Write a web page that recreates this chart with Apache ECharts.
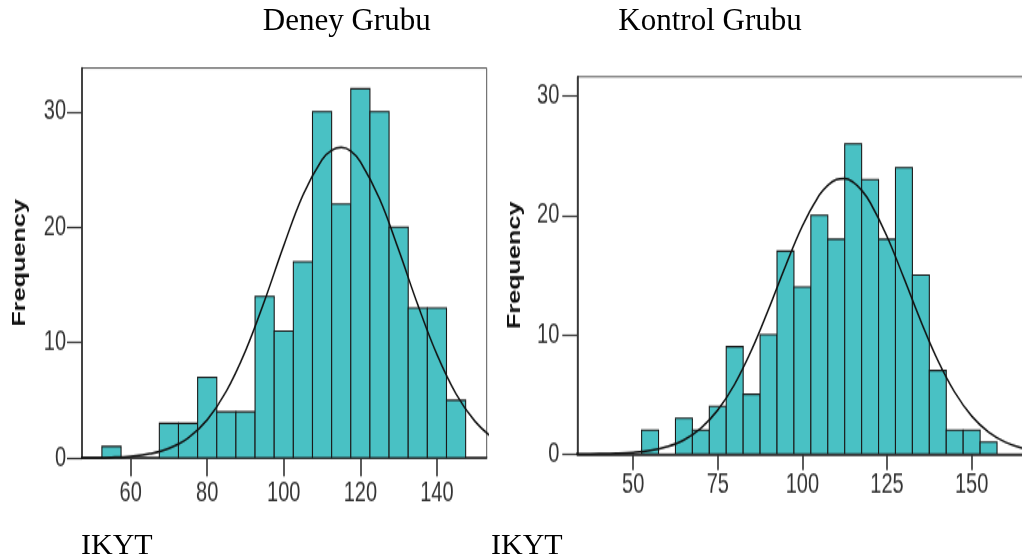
<!DOCTYPE html>
<html>
<head>
<meta charset="utf-8">
<script src="https://cdn.jsdelivr.net/npm/echarts@6/dist/echarts.min.js"></script>
<style>
  html, body { margin: 0; padding: 0; background: #fff; }
  #stage { position: relative; width: 1022px; height: 560px; overflow: hidden; background: #fff; }
  /* the two SPSS panels are drawn on a squat canvas and stretched vertically */
  #plots { position: absolute; left: 0; top: 0; width: 1022px; height: 400px; transform: scaleY(1.4); transform-origin: 0 0; }
  #captions { position: absolute; left: 0; top: 0; width: 1022px; height: 560px; }
</style>
</head>
<body>
<div id="stage">
  <div id="plots"></div>
  <div id="captions"></div>
</div>
<script>
// IKYT score histograms, bins of width 5 centred on multiples of 5
const binWidth = 5;
const deneyBins    = [55, 60, 65, 70, 75, 80, 85, 90, 95, 100, 105, 110, 115, 120, 125, 130, 135, 140, 145];
const deneyCounts  = [ 1,  0,  0,  3,  3,  7,  4,  4, 14,  11,  17,  30,  22,  32,  30,  20,  13,  13,   5];
const kontrolBins   = [55, 60, 65, 70, 75, 80, 85, 90, 95, 100, 105, 110, 115, 120, 125, 130, 135, 140, 145, 150, 155];
const kontrolCounts = [ 2,  0,  3,  2,  4,  9,  5, 10, 17,  14,  20,  18,  26,  23,  18,  24,  15,   7,   2,   2,   1];

// Normal curves laid over each histogram, sampled every 5 points (finer near the peak)
const deneyCurveX = [45, 50, 55, 60, 65, 70, 75, 80, 85, 90, 95, 100, 105, 110, 112.5, 115, 117.5, 120, 125, 130, 135, 140, 145, 150, 155];
const deneyCurveY = [0.006, 0.019, 0.055, 0.149, 0.37, 0.84, 1.74, 3.31, 5.79, 9.28, 13.65, 18.41, 22.78, 25.85, 26.65, 26.9, 26.6, 25.67, 22.47, 18.04, 13.28, 8.97, 5.55, 3.15, 1.64];
const kontrolCurveX = [30, 35, 40, 45, 50, 55, 60, 65, 70, 75, 80, 85, 90, 95, 100, 105, 107.5, 110, 112.5, 115, 117.5, 120, 125, 130, 135, 140, 145, 150, 155, 160, 165, 170];
const kontrolCurveY = [0.003, 0.008, 0.021, 0.054, 0.13, 0.29, 0.61, 1.18, 2.16, 3.68, 5.86, 8.72, 12.13, 15.75, 19.12, 21.7, 22.53, 23.0, 23.09, 22.78, 22.1, 21.09, 18.24, 14.74, 11.13, 7.85, 5.18, 3.19, 1.84, 0.99, 0.5, 0.23];

// Axis tick labels
const deneyXTicks   = [60, 80, 100, 120, 140];
const kontrolXTicks = [50, 75, 100, 125, 150];
const freqTicks     = [0, 10, 20, 30];

// Texts
const groupTitles = ['Deney Grubu', 'Kontrol Grubu'];
const xTitle = 'IKYT';
const yTitle = 'Frequency';

// vertical stretch applied to the panel canvas through CSS
const SY = 1.4;

const BAR_FILL = '#49C1C4';
const INK = '#222';

function pairs(xs, ys) { return xs.map((x, i) => [x, ys[i]]); }

function histItem(params, api) {
  const c = api.value(0), n = api.value(1);
  if (!n) return null;
  const p0 = api.coord([c - binWidth / 2, 0]);
  const p1 = api.coord([c + binWidth / 2, n]);
  return {
    type: 'rect',
    shape: { x: p0[0], y: p1[1], width: p1[0] - p0[0], height: p0[1] - p1[1] },
    style: { fill: BAR_FILL, stroke: '#1a1a1a', lineWidth: 1.1 }
  };
}

function xAxisFor(grid, min, max, ticks, tickLen, margin) {
  return {
    gridIndex: grid, type: 'value', min: min, max: max,
    axisLine: { show: true, onZero: false, lineStyle: { color: INK, width: 1.5 } },
    axisTick: { show: true, length: tickLen, customValues: ticks, lineStyle: { color: '#333', width: 1.6 } },
    axisLabel: { customValues: ticks, margin: margin, fontSize: 20, fontFamily: 'Liberation Sans', color: '#333' },
    splitLine: { show: false }
  };
}

function yAxisFor(grid, max, margin, nameGap) {
  return {
    gridIndex: grid, type: 'value', min: 0, max: max,
    name: yTitle, nameLocation: 'middle', nameRotate: 90, nameGap: nameGap,
    nameTextStyle: { fontSize: 18, fontWeight: 'bold', fontFamily: 'Liberation Sans', color: '#111' },
    axisLine: { show: true, onZero: false, lineStyle: { color: INK, width: 1.5 } },
    axisTick: { show: true, length: 15, customValues: freqTicks, lineStyle: { color: '#333', width: 1.2 } },
    axisLabel: { customValues: freqTicks, margin: margin, fontSize: 20, fontFamily: 'Liberation Sans', color: '#333' },
    splitLine: { show: false }
  };
}

const plots = echarts.init(document.getElementById('plots'), null, { renderer: 'canvas' });
plots.setOption({
  animation: false,
  backgroundColor: '#fff',
  grid: [
    { left: 82, top: 68 / SY, width: 404.7, height: 390 / SY, show: true, borderColor: '#555', borderWidth: 1, outerBoundsMode: 'none' },
    { left: 577.3, top: 76.7 / SY, width: 448.5, height: 377.3 / SY, show: true, borderColor: '#555', borderWidth: 1, outerBoundsMode: 'none' }
  ],
  xAxis: [
    xAxisFor(0, 47.3, 153, deneyXTicks, 13, 15),
    xAxisFor(1, 33.5, 166, kontrolXTicks, 11.5, 12)
  ],
  yAxis: [
    yAxisFor(0, 33.79, 16, 53),
    yAxisFor(1, 31.62, 18, 53)
  ],
  series: [
    { type: 'custom', xAxisIndex: 0, yAxisIndex: 0, clip: true, renderItem: histItem,
      data: pairs(deneyBins, deneyCounts) },
    { type: 'line', xAxisIndex: 0, yAxisIndex: 0, clip: true, smooth: 0.4, showSymbol: false, z: 5,
      lineStyle: { color: '#111', width: 1.5 }, data: pairs(deneyCurveX, deneyCurveY) },
    { type: 'custom', xAxisIndex: 1, yAxisIndex: 1, clip: true, renderItem: histItem,
      data: pairs(kontrolBins, kontrolCounts) },
    { type: 'line', xAxisIndex: 1, yAxisIndex: 1, clip: true, smooth: 0.4, showSymbol: false, z: 5,
      lineStyle: { color: '#111', width: 1.5 }, data: pairs(kontrolCurveX, kontrolCurveY) }
  ]
});

// Group headings and axis captions in Times-style type
const captions = echarts.init(document.getElementById('captions'), null, { renderer: 'canvas' });
const serif = 'Liberation Serif, Times New Roman, serif';
captions.setOption({
  animation: false,
  graphic: [
    { type: 'text', x: 346.7, y: 21.5, style: { text: groupTitles[0], font: '31px ' + serif, fill: '#000', textAlign: 'center', textVerticalAlign: 'middle' } },
    { type: 'text', x: 710, y: 21.5, style: { text: groupTitles[1], font: '31px ' + serif, fill: '#000', textAlign: 'center', textVerticalAlign: 'middle' } },
    { type: 'text', x: 81, y: 546, style: { text: xTitle, font: '30px ' + serif, fill: '#000', textAlign: 'left', textVerticalAlign: 'middle' } },
    { type: 'text', x: 491, y: 546, style: { text: xTitle, font: '30px ' + serif, fill: '#000', textAlign: 'left', textVerticalAlign: 'middle' } }
  ]
});
</script>
</body>
</html>
